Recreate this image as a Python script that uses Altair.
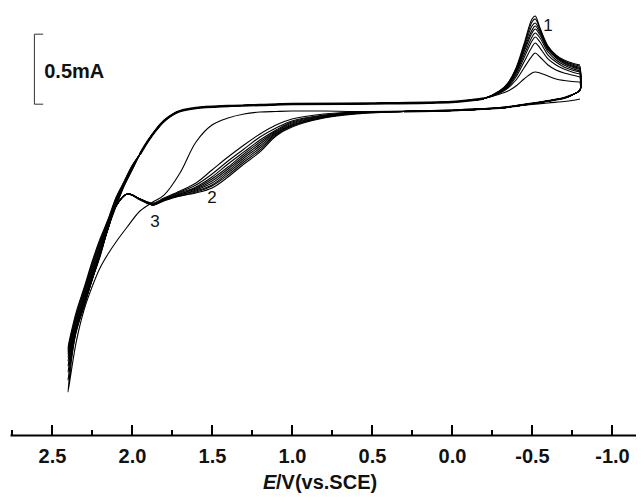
import altair as alt
import pandas as pd

# ---------------- data (potential E in V vs SCE, current I in mA) ----------------
E_LOWER_BAND = [-0.8, -0.75, -0.7, -0.6, -0.5, -0.4, -0.3, -0.2, 0.0, 0.3]
E_LOWER_WAVE = [0.6, 0.8, 1.0, 1.1, 1.2, 1.3, 1.4, 1.5, 1.6, 1.7, 1.8, 1.87, 1.95,
                2.03, 2.1, 2.15, 2.2, 2.25, 2.3, 2.35]
E_VERTEX = 2.4
E_UPPER_STEEP = [2.35, 2.3, 2.25, 2.2, 2.15, 2.1, 2.05, 2.0]
E_UPPER_FLAT = [1.95, 1.9, 1.85, 1.8, 1.75, 1.7, 1.6, 1.4, 1.2, 1.0, 0.5, 0.0, -0.1, -0.2]
E_PEAK = [-0.3, -0.35, -0.4, -0.45, -0.5, -0.52, -0.55, -0.6, -0.65, -0.7, -0.75, -0.8]

I_LOWER_BAND = [0.271, 0.236, 0.214, 0.193, 0.175, 0.157, 0.143, 0.136, 0.125, 0.118]
I_LOWER_BAND_FIRST = [0.207, 0.196, 0.189, 0.179, 0.168, 0.157, 0.146, 0.139, 0.129, 0.121]
I_UPPER_FLAT = [-0.186, -0.093, -0.014, 0.050, 0.093, 0.121, 0.143, 0.157, 0.164, 0.171,
                0.175, 0.186, 0.196, 0.211]

I_WAVE_1 = [0.118, 0.121, 0.121, 0.118, 0.114, 0.100, 0.071, 0.021, -0.100, -0.321, -0.479,
            -0.529, -0.593, -0.707, -0.814, -0.900, -1.000, -1.136, -1.300, -1.536]
I_WAVE_2 = [0.114, 0.100, 0.064, 0.021, -0.043, -0.121, -0.207, -0.300, -0.393, -0.450, -0.500,
            -0.536, -0.507, -0.471, -0.557, -0.721, -0.907, -1.086, -1.271, -1.464]
I_WAVE_3 = [0.114, 0.093, 0.050, 0.000, -0.064, -0.150, -0.236, -0.329, -0.407, -0.457, -0.507,
            -0.543, -0.507, -0.471, -0.557, -0.721, -0.907, -1.086, -1.271, -1.457]
I_WAVE_4 = [0.111, 0.089, 0.043, -0.014, -0.086, -0.171, -0.257, -0.350, -0.421, -0.464, -0.507,
            -0.543, -0.507, -0.471, -0.557, -0.721, -0.907, -1.086, -1.264, -1.443]
I_WAVE_5 = [0.107, 0.086, 0.036, -0.021, -0.100, -0.186, -0.279, -0.364, -0.429, -0.471, -0.514,
            -0.543, -0.507, -0.471, -0.557, -0.721, -0.900, -1.079, -1.257, -1.436]
I_WAVE_6 = [0.107, 0.082, 0.029, -0.029, -0.114, -0.200, -0.293, -0.379, -0.436, -0.471, -0.514,
            -0.550, -0.507, -0.471, -0.557, -0.714, -0.900, -1.079, -1.257, -1.429]
I_WAVE_7 = [0.107, 0.079, 0.021, -0.036, -0.129, -0.214, -0.307, -0.393, -0.443, -0.479, -0.514,
            -0.550, -0.507, -0.471, -0.557, -0.714, -0.900, -1.071, -1.250, -1.421]
I_WAVE_8 = [0.104, 0.079, 0.018, -0.043, -0.143, -0.229, -0.321, -0.407, -0.450, -0.479, -0.514,
            -0.550, -0.507, -0.471, -0.557, -0.714, -0.893, -1.071, -1.243, -1.414]
I_WAVE_9 = [0.104, 0.075, 0.014, -0.050, -0.157, -0.243, -0.336, -0.414, -0.457, -0.486, -0.514,
            -0.550, -0.507, -0.471, -0.557, -0.714, -0.893, -1.064, -1.243, -1.407]
I_WAVE_10 = [0.100, 0.071, 0.007, -0.057, -0.171, -0.257, -0.350, -0.429, -0.464, -0.486, -0.521,
             -0.550, -0.514, -0.471, -0.557, -0.714, -0.893, -1.064, -1.236, -1.400]

I_VERTEX = [-1.886, -1.800, -1.743, -1.700, -1.664, -1.636, -1.614, -1.600, -1.586, -1.571]

I_STEEP_1 = [-1.450, -1.271, -1.086, -0.921, -0.718, -0.561, -0.416, -0.302]
I_STEEP_2 = [-1.436, -1.257, -1.071, -0.907, -0.711, -0.554, -0.413, -0.298]
I_STEEP_3 = [-1.421, -1.243, -1.057, -0.893, -0.704, -0.546, -0.409, -0.295]
I_STEEP_4 = [-1.407, -1.229, -1.043, -0.879, -0.696, -0.539, -0.405, -0.291]
I_STEEP_5 = [-1.393, -1.214, -1.029, -0.864, -0.689, -0.532, -0.402, -0.288]
I_STEEP_6 = [-1.379, -1.200, -1.014, -0.850, -0.682, -0.525, -0.398, -0.284]
I_STEEP_7 = [-1.364, -1.186, -1.000, -0.836, -0.675, -0.518, -0.395, -0.280]
I_STEEP_8 = [-1.350, -1.171, -0.986, -0.821, -0.668, -0.511, -0.391, -0.277]
I_STEEP_9 = [-1.336, -1.157, -0.971, -0.807, -0.661, -0.504, -0.388, -0.273]
I_STEEP_10 = [-1.321, -1.143, -0.957, -0.793, -0.654, -0.496, -0.384, -0.270]

I_PEAK_1 = [0.243, 0.264, 0.300, 0.350, 0.393, 0.400, 0.393, 0.371, 0.350, 0.339, 0.332, 0.329]
I_PEAK_2 = [0.250, 0.286, 0.343, 0.429, 0.514, 0.536, 0.507, 0.450, 0.414, 0.393, 0.379, 0.364]
I_PEAK_3 = [0.254, 0.293, 0.364, 0.471, 0.579, 0.607, 0.571, 0.493, 0.450, 0.421, 0.400, 0.386]
I_PEAK_4 = [0.257, 0.300, 0.379, 0.500, 0.621, 0.650, 0.614, 0.521, 0.471, 0.436, 0.414, 0.400]
I_PEAK_5 = [0.257, 0.307, 0.393, 0.521, 0.650, 0.679, 0.643, 0.543, 0.486, 0.450, 0.425, 0.407]
I_PEAK_6 = [0.261, 0.311, 0.400, 0.543, 0.679, 0.707, 0.664, 0.557, 0.500, 0.461, 0.436, 0.418]
I_PEAK_7 = [0.261, 0.314, 0.407, 0.557, 0.700, 0.729, 0.679, 0.564, 0.507, 0.468, 0.443, 0.425]
I_PEAK_8 = [0.264, 0.318, 0.414, 0.571, 0.729, 0.750, 0.693, 0.571, 0.514, 0.475, 0.450, 0.432]
I_PEAK_9 = [0.264, 0.321, 0.421, 0.586, 0.757, 0.779, 0.707, 0.579, 0.521, 0.479, 0.457, 0.443]
I_PEAK_10 = [0.268, 0.321, 0.429, 0.600, 0.779, 0.800, 0.714, 0.586, 0.521, 0.486, 0.464, 0.450]

WAVES = [I_WAVE_1, I_WAVE_2, I_WAVE_3, I_WAVE_4, I_WAVE_5, I_WAVE_6, I_WAVE_7, I_WAVE_8, I_WAVE_9, I_WAVE_10]
STEEPS = [I_STEEP_1, I_STEEP_2, I_STEEP_3, I_STEEP_4, I_STEEP_5, I_STEEP_6, I_STEEP_7, I_STEEP_8, I_STEEP_9, I_STEEP_10]
PEAKS = [I_PEAK_1, I_PEAK_2, I_PEAK_3, I_PEAK_4, I_PEAK_5, I_PEAK_6, I_PEAK_7, I_PEAK_8, I_PEAK_9, I_PEAK_10]

MAJOR_TICKS = [2.5, 2.0, 1.5, 1.0, 0.5, 0.0, -0.5, -1.0]
MINOR_TICKS = [2.75, 2.25, 1.75, 1.25, 0.75, 0.25, -0.25, -0.75]

SCALE_BAR_E = 2.61
SCALE_BAR_CAP_E = 2.555
SCALE_BAR_I = [0.17, 0.67]
SCALE_BAR_LABEL = "0.5mA"

CURVE_LABELS = ["1", "2", "3"]
CURVE_LABEL_E = [-0.60, 1.50, 1.856]
CURVE_LABEL_I = [0.729, -0.502, -0.669]

X_DOMAIN = [-1.15, 2.7625]
Y_DOMAIN = [-2.1929, 0.8571]
W, H = 626, 427

# ---------------- build tables ----------------
rows = []
for k in range(10):
    if k == 0:
        E = list(E_LOWER_BAND)
        I = list(I_LOWER_BAND_FIRST)
    else:
        E = [E_PEAK[-1]] + E_LOWER_BAND
        I = [PEAKS[k - 1][-1]] + I_LOWER_BAND
    E += E_LOWER_WAVE + [E_VERTEX] + E_UPPER_STEEP + E_UPPER_FLAT + E_PEAK
    I += WAVES[k] + [I_VERTEX[k]] + STEEPS[k] + I_UPPER_FLAT + PEAKS[k]
    for j, (e, i) in enumerate(zip(E, I)):
        rows.append({"cycle": k + 1, "idx": j, "E": e, "I": i})
curves = pd.DataFrame(rows)

flat_df = pd.DataFrame({"E": E_UPPER_FLAT, "I": I_UPPER_FLAT, "idx": range(len(E_UPPER_FLAT))})
band_df = pd.DataFrame({"E": E_LOWER_BAND[1:], "I": I_LOWER_BAND[1:], "idx": range(len(E_LOWER_BAND) - 1)})

xscale = alt.Scale(domain=X_DOMAIN, reverse=True, nice=False, zero=False)
yscale = alt.Scale(domain=Y_DOMAIN, nice=False, zero=False)

label_expr = "datum.value < 0 ? '-' + format(-datum.value, '.1f') : format(datum.value, '.1f')"
xaxis = alt.Axis(values=MAJOR_TICKS, labelExpr=label_expr, ticks=False, tickSize=0,
                 grid=False, domain=True, domainWidth=2, domainColor="#000",
                 labelFont="Liberation Sans", labelFontWeight="bold", labelFontSize=20,
                 labelColor="#111", labelPadding=11, title=None)

X = alt.X("E:Q", scale=xscale, axis=xaxis)
Y = alt.Y("I:Q", scale=yscale, axis=None)

lines = alt.Chart(curves).mark_line(interpolate="catmull-rom", color="#000", strokeWidth=1.1).encode(
    x=X, y=Y, detail="cycle:N", order="idx:Q")

flat = alt.Chart(flat_df).mark_line(interpolate="catmull-rom", color="#000", strokeWidth=2.4).encode(
    x=alt.X("E:Q", scale=xscale), y=alt.Y("I:Q", scale=yscale), order="idx:Q")
band = alt.Chart(band_df).mark_line(interpolate="catmull-rom", color="#000", strokeWidth=2.0).encode(
    x=alt.X("E:Q", scale=xscale), y=alt.Y("I:Q", scale=yscale), order="idx:Q")

major = alt.Chart(pd.DataFrame({"E": MAJOR_TICKS})).mark_rule(color="#000", strokeWidth=2).encode(
    x=alt.X("E:Q", scale=xscale), y=alt.value(H - 10), y2=alt.value(H))
minor = alt.Chart(pd.DataFrame({"E": MINOR_TICKS})).mark_rule(color="#000", strokeWidth=2).encode(
    x=alt.X("E:Q", scale=xscale), y=alt.value(H - 5), y2=alt.value(H))

bar_v = alt.Chart(pd.DataFrame({"E": [SCALE_BAR_E], "I1": [SCALE_BAR_I[0]], "I2": [SCALE_BAR_I[1]]})).mark_rule(
    color="#333", strokeWidth=1).encode(
    x=alt.X("E:Q", scale=xscale), y=alt.Y("I1:Q", scale=yscale), y2="I2:Q")
bar_caps = alt.Chart(pd.DataFrame({"E1": [SCALE_BAR_E, SCALE_BAR_E], "E2": [SCALE_BAR_CAP_E, SCALE_BAR_CAP_E],
                                   "I": SCALE_BAR_I})).mark_rule(color="#333", strokeWidth=1).encode(
    x=alt.X("E1:Q", scale=xscale), x2="E2:Q", y=alt.Y("I:Q", scale=yscale))
bar_text = alt.Chart(pd.DataFrame({"E": [SCALE_BAR_CAP_E], "I": [sum(SCALE_BAR_I) / 2 - 0.02], "t": [SCALE_BAR_LABEL]})).mark_text(
    align="left", baseline="middle", font="Liberation Sans", fontWeight="bold", fontSize=20, color="#111", dx=1).encode(
    x=alt.X("E:Q", scale=xscale), y=alt.Y("I:Q", scale=yscale), text="t:N")

lab = alt.Chart(pd.DataFrame({"E": CURVE_LABEL_E, "I": CURVE_LABEL_I, "t": CURVE_LABELS})).mark_text(
    align="center", baseline="middle", font="Liberation Sans", fontSize=17, color="#111").encode(
    x=alt.X("E:Q", scale=xscale), y=alt.Y("I:Q", scale=yscale), text="t:N")

title_e = alt.Chart(pd.DataFrame({"t": ["E"]})).mark_text(
    align="left", baseline="alphabetic", font="Liberation Sans", fontWeight="bold", fontStyle="italic",
    fontSize=20, color="#111").encode(x=alt.value(253), y=alt.value(481), text="t:N")
title_rest = alt.Chart(pd.DataFrame({"t": ["/V(vs.SCE)"]})).mark_text(
    align="left", baseline="alphabetic", font="Liberation Sans", fontWeight="bold",
    fontSize=20, color="#111").encode(x=alt.value(266), y=alt.value(481), text="t:N")

chart = alt.layer(lines, flat, band, major, minor, bar_v, bar_caps, bar_text, lab, title_e, title_rest).properties(
    width=W, height=H, padding={"left": 2, "top": 0, "right": 0, "bottom": 0}, background="white"
).configure_view(strokeWidth=0)

chart.save("out.html", embed_options={"renderer": "svg", "actions": False})
